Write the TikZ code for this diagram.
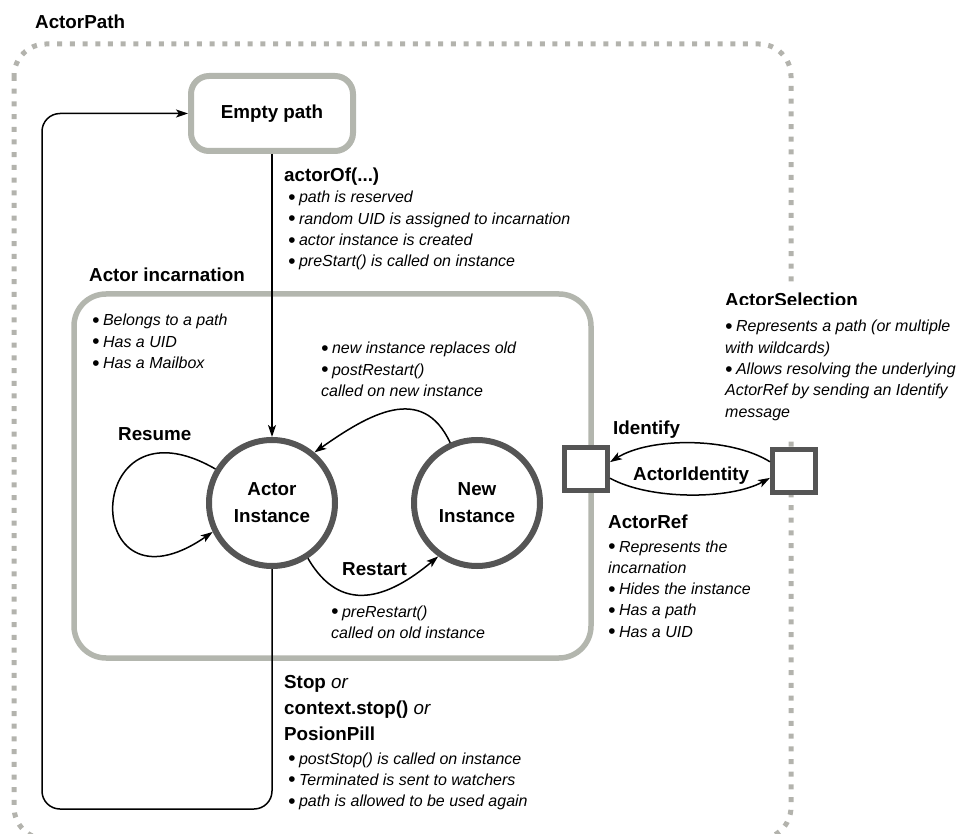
\documentclass[tikz,border=0pt]{standalone}
\usepackage{fontspec}
\setmainfont{Liberation Sans}
\usetikzlibrary{arrows.meta}

\definecolor{framegrey}{HTML}{B3B3AD}
\definecolor{boxgrey}{HTML}{B3B6AE}
\definecolor{ringgrey}{HTML}{555555}

\newcommand{\bul}{\raisebox{-1.6pt}{\fontsize{21}{0}\selectfont\textbullet}\hspace{3.5pt}}
\newcommand{\rows}[1]{\begin{tabular}[t]{@{}l@{}}#1\end{tabular}}

\tikzset{
  head/.style={font=\bfseries\fontsize{18.8}{26}\selectfont, anchor=base west, inner sep=0pt},
  notes/.style={font=\itshape\fontsize{16}{21.3}\selectfont, anchor=base west, inner sep=0pt},
  state/.style={circle, draw=ringgrey, line width=6pt, fill=white, minimum size=126pt, inner sep=0pt,
    align=center, font=\bfseries\fontsize{18.8}{27}\selectfont},
  ref/.style={rectangle, draw=ringgrey, line width=5pt, fill=white, minimum size=43pt, inner sep=0pt},
  pathbox/.style={rectangle, rounded corners=18pt, draw=boxgrey, line width=6pt, fill=white,
    minimum width=162pt, minimum height=75pt, font=\bfseries\fontsize{18.8}{22}\selectfont},
  incbox/.style={rectangle, rounded corners=32pt, draw=boxgrey, line width=5.5pt,
    minimum width=517pt, minimum height=364pt},
  pathframe/.style={draw=framegrey, line width=5pt, dash pattern=on 5pt off 7.7pt, rounded corners=32pt},
  link/.style={line width=1.5pt, -{Stealth[length=12pt,width=8pt,inset=3pt]}},
}

\begin{document}
\begin{tikzpicture}[x=1pt, y=-1pt]
  \useasboundingbox (0,0) rectangle (967,834);

  % actor path frame
  \draw[pathframe] (14,44) rectangle (791,839);
  \node[head] (pathtitle) at (35,29) {ActorPath};
  \node[pathbox] (emptyp) at (272,113.5) {Empty path};
  \node[head] (ofhead) at (284,182) {actorOf(...)};
  \node[notes] (ofnotes) at (288,203) {\rows{\bul path is reserved\\ \bul random UID is assigned to incarnation\\
    \bul actor instance is created\\ \bul preStart() is called on instance}};

  % incarnation
  \node[incbox] (incarn) at (332.5,476) {};
  \node[head] (inchead) at (89,282) {Actor incarnation};
  \node[notes] (incnotes) at (92,326) {\rows{\bul Belongs to a path\\ \bul Has a UID\\ \bul Has a Mailbox}};
  \node[state] (actori) at (272,503) {Actor\\Instance};
  \node[state] (newi) at (477,503) {New\\Instance};
  \node[head] (resume) at (118,440) {Resume};
  \node[notes] (postnotes) at (321,354) {\rows{\bul new instance replaces old\\ \bul postRestart()\\ called on new instance}};
  \node[head] (restart) at (342,575) {Restart};
  \node[notes] (prenotes) at (331,617) {\rows{\bul preRestart()\\ called on old instance}};

  % stopping
  \node[head] (stophead) at (284,688) {\rows{Stop \textmd{\itshape or}\\ context.stop() \textmd{\itshape or}\\ PosionPill}};
  \node[notes] (stopnotes) at (288,764) {\rows{\bul postStop() is called on instance\\ \bul Terminated is sent to watchers\\
    \bul path is allowed to be used again}};
  \coordinate (stopturn) at (42,809);

  % refs and selection
  \node[ref] (sqL) at (586,469) {};
  \node[ref] (sqR) at (794,471) {};
  \node[head, fill=white, inner ysep=9pt] (selhead) at (725,307) {ActorSelection};
  \node[notes, fill=white, inner ysep=12pt] (selnotes) at (725,332) {\rows{\bul Represents a path (or multiple\\
    with wildcards)\\ \bul Allows resolving the underlying\\ ActorRef by sending an Identify\\ message}};
  \node[head] (identify) at (613,434) {Identify};
  \node[head] (identity) at (633,480) {ActorIdentity};
  \node[head] (refhead) at (608,528) {ActorRef};
  \node[notes] (refnotes) at (608,552) {\rows{\bul Represents the\\ incarnation\\ \bul Hides the instance\\
    \bul Has a path\\ \bul Has a UID}};

  % connectors
  \draw[link] (emptyp.south) -- (actori.north);
  \draw[link, rounded corners=18pt] (actori.south) |- (stopturn) |- (emptyp.west);
  \draw[link] (actori.149) .. controls +(-135,-78) and +(-133,92) .. (actori.206);
  \draw[link] (newi.114) .. controls +(-28,-60) and +(54,-38) .. (actori.50);
  \draw[link] (actori.-57) .. controls +(33,57) and +(-50,42) .. (newi.-126);
  \draw[link] (sqR.159) .. controls +(-40,-25) and +(40,-25) .. (sqL.16);
  \draw[link] (sqL.-21) .. controls +(40,22) and +(-40,22) .. (sqR.-164);
\end{tikzpicture}
\end{document}
